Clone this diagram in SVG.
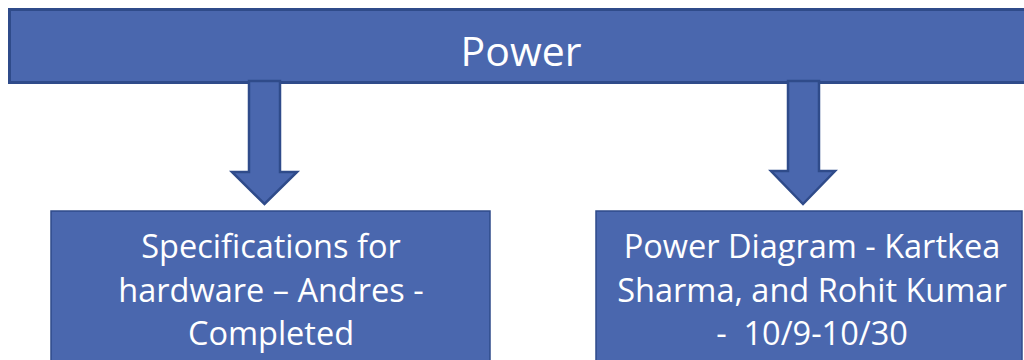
<svg xmlns="http://www.w3.org/2000/svg" width="1024" height="360" viewBox="0 0 1024 360">
<style>
.box{fill:#4a67ae;stroke:#2f4b8a;}
.arrow{fill:#4a67ae;stroke:#2f4b8a;stroke-width:2.5;stroke-linejoin:miter;}
.t{font-family:"Open Sans","Liberation Sans",sans-serif;fill:#ffffff;text-anchor:middle;}
.b{font-size:32.5px;}
</style>
<rect width="1024" height="360" fill="#ffffff"/>
<g id="power">
<rect class="box" x="9.5" y="9.5" width="1016" height="73" stroke-width="3"/>
<text class="t" x="521" y="66" font-size="41">Power</text>
</g>
<g id="connectors">
<polygon class="arrow" points="249,81 280,81 280,172 297,172 264.5,204 232,172 249,172"/>
<polygon class="arrow" points="788,81 819,81 819,171 835,171 803,204 771,171 788,171"/>
</g>
<g id="specs">
<rect class="box" x="51" y="211" width="439" height="160" stroke-width="1.5"/>
<text class="t b" x="271" y="258">Specifications for</text>
<text class="t b" x="271" y="302">hardware – Andres -</text>
<text class="t b" x="271" y="345">Completed</text>
</g>
<g id="diagram">
<rect class="box" x="596" y="211" width="426" height="160" stroke-width="1.5"/>
<text class="t b" x="812" y="258">Power Diagram - Kartkea</text>
<text class="t b" x="812" y="302">Sharma, and Rohit Kumar</text>
<text class="t b" x="812" y="345" xml:space="preserve">-  10/9-10/30</text>
</g>
</svg>
